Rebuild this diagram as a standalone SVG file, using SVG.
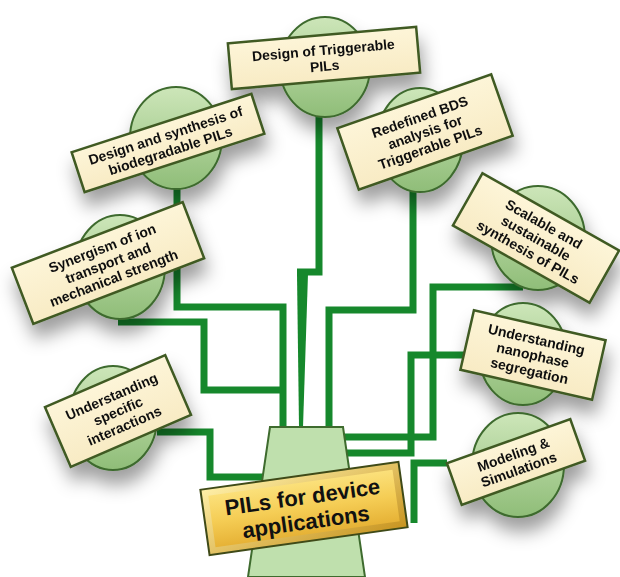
<svg xmlns="http://www.w3.org/2000/svg" width="620" height="577" viewBox="0 0 620 577">
<defs>
<linearGradient id="gc" x1="0" y1="0" x2="0" y2="1">
<stop offset="0" stop-color="#cde6b9"/>
<stop offset="1" stop-color="#8fbd78"/>
</linearGradient>
<linearGradient id="gb" x1="0" y1="0" x2="0" y2="1">
<stop offset="0" stop-color="#fdf5d8"/>
<stop offset="1" stop-color="#f8ebc4"/>
</linearGradient>
<linearGradient id="gg" x1="0" y1="0" x2="0" y2="1">
<stop offset="0" stop-color="#fbe07a"/>
<stop offset="0.5" stop-color="#f5cd55"/>
<stop offset="1" stop-color="#e6b236"/>
</linearGradient>
<linearGradient id="gg2" x1="0" y1="0" x2="1" y2="1">
<stop offset="0" stop-color="#fff0a8"/>
<stop offset="1" stop-color="#c79420"/>
</linearGradient>
<filter id="sh" x="-40%" y="-40%" width="180%" height="190%">
<feGaussianBlur in="SourceAlpha" stdDeviation="9"/>
<feOffset dx="3" dy="14" result="b"/>
<feFlood flood-color="#000" flood-opacity="0.38"/>
<feComposite in2="b" operator="in"/>
<feMerge><feMergeNode/><feMergeNode in="SourceGraphic"/></feMerge>
</filter>
<style>
.c{fill:url(#gc);stroke:#3e6b2e;stroke-width:2}
.b{fill:url(#gb);stroke:#3f5a24;stroke-width:2.5}
.t{font-family:"Liberation Sans",Arial,sans-serif;font-weight:bold;font-size:14px;fill:#111;text-anchor:middle}
.k{fill:none;stroke:#16882c;stroke-width:7;stroke-linejoin:miter;stroke-linecap:butt}
</style>
</defs>
<rect width="620" height="577" fill="#fff"/>

<g id="connectors">
<path class="k" d="M319,112 V272 H297"/>
<polygon points="297,274 308,274 303,427 299,427" fill="#16882c"/>
<path class="k" d="M177,185 V307 H283 V427"/>
<path class="k" d="M118,322 H204 V390 H283"/>
<path class="k" d="M157,432 H210 V477 H264"/>
<path class="k" d="M413,190 V310 H329 V427"/>
<path class="k" d="M523,287 H433 V437 H342"/>
<path class="k" d="M467,355 H411 V453 H345"/>
<path class="k" d="M447,463 H414 V523"/>
</g>

<g id="trunk">
<polygon points="270,427 343,427 365,577 248,577" fill="#bfe0ad" stroke="#3e6b2e" stroke-width="2"/>
</g>

<g id="n1" filter="url(#sh)">
<ellipse class="c" cx="325" cy="67" rx="45" ry="50"/>
<g transform="translate(324,58) rotate(-5)">
<rect class="b" x="-94.5" y="-23" width="189" height="46"/>
<text class="t" y="-3">Design of Triggerable</text>
<text class="t" y="13">PILs</text>
</g>
</g>

<g id="n2" filter="url(#sh)">
<ellipse class="c" cx="176" cy="138" rx="46" ry="51"/>
<g transform="translate(168,143) rotate(-18)">
<rect class="b" x="-94.5" y="-21" width="189" height="42"/>
<text class="t" y="-3">Design and synthesis of</text>
<text class="t" y="13">biodegradable PILs</text>
</g>
</g>

<g id="n3" filter="url(#sh)">
<ellipse class="c" cx="120" cy="267" rx="45" ry="52"/>
<g transform="translate(108,263) rotate(-21)">
<rect class="b" x="-91.5" y="-30" width="183" height="60"/>
<text class="t" y="-11">Synergism of ion</text>
<text class="t" y="5">transport and</text>
<text class="t" y="21">mechanical strength</text>
</g>
</g>

<g id="n4" filter="url(#sh)">
<ellipse class="c" cx="113" cy="418" rx="44" ry="52"/>
<g transform="translate(118,411) rotate(-23.4)">
<rect class="b" x="-65.5" y="-32.5" width="131" height="65"/>
<text class="t" y="-11">Understanding</text>
<text class="t" y="5">specific</text>
<text class="t" y="21">interactions</text>
</g>
</g>

<g id="n5" filter="url(#sh)">
<ellipse class="c" cx="420" cy="140" rx="43" ry="52"/>
<g transform="translate(425,132) rotate(-19.3)">
<rect class="b" x="-81.5" y="-32.5" width="163" height="65"/>
<text class="t" y="-11">Redefined BDS</text>
<text class="t" y="5">analysis for</text>
<text class="t" y="21">Triggerable PILs</text>
</g>
</g>

<g id="n6" filter="url(#sh)">
<ellipse class="c" cx="538" cy="238" rx="47" ry="52"/>
<g transform="translate(536,238) rotate(29.5)">
<rect class="b" x="-78.5" y="-30" width="157" height="60"/>
<text class="t" y="-11">Scalable and</text>
<text class="t" y="5">sustainable</text>
<text class="t" y="21">synthesis of PILs</text>
</g>
</g>

<g id="n7" filter="url(#sh)">
<ellipse class="c" cx="523" cy="354" rx="44" ry="51"/>
<g transform="translate(533,355) rotate(12.8)">
<rect class="b" x="-67.5" y="-30.5" width="135" height="61"/>
<text class="t" y="-11">Understanding</text>
<text class="t" y="5">nanophase</text>
<text class="t" y="21">segregation</text>
</g>
</g>

<g id="n8" filter="url(#sh)">
<ellipse class="c" cx="518" cy="465" rx="46" ry="52"/>
<g transform="translate(516,462) rotate(-19.7)">
<rect class="b" x="-65.5" y="-22" width="131" height="44"/>
<text class="t" y="-3">Modeling &amp;</text>
<text class="t" y="13">Simulations</text>
</g>
</g>

<g id="center">
<g transform="translate(304,508.5) rotate(-8)">
<rect x="-100" y="-33" width="200" height="66" fill="url(#gg2)" stroke="#3f4a18" stroke-width="2"/>
<rect x="-93" y="-26" width="186" height="52" fill="url(#gg)"/>
<text class="t" style="font-size:22px" y="-4">PILs for device</text>
<text class="t" style="font-size:22px" y="21">applications</text>
</g>
</g>
</svg>
